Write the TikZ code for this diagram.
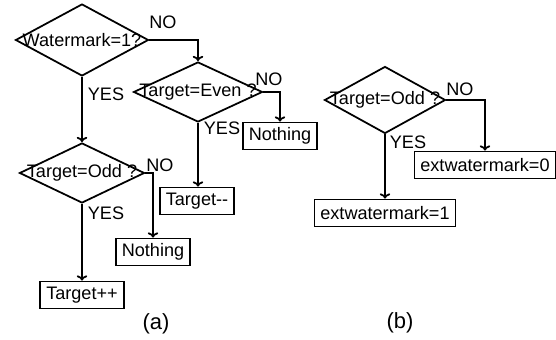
\documentclass[tikz,border=0pt]{standalone}
\usepackage{fontspec}
\setmainfont{Liberation Sans}
\usetikzlibrary{arrows.meta, positioning, shapes.geometric, calc}

\tikzset{
    decision/.style={draw, shape=diamond, line width=1pt, inner sep=0pt},
    action/.style={draw, rectangle, line width=1pt, inner xsep=0.12cm, inner ysep=0pt,
                   minimum height=0.54cm},
    flow/.style={line width=1pt, -{To[length=3pt, width=6pt]}},
    tag/.style={inner sep=0pt},
    caption/.style={inner sep=0pt, font=\fontsize{12.5pt}{14pt}\selectfont}
}

\begin{document}
\begin{tikzpicture}[x=0.02cm, y=-0.02cm, font=\fontsize{10.3pt}{12pt}\selectfont]
    \useasboundingbox (0,0) rectangle (556,340);

    % (a)
    \node[decision, minimum width=2.66cm, minimum height=1.44cm,
          label={center:Watermark=1?}] (wmark) at (82,40) {};
    \node[decision, minimum width=2.58cm, minimum height=1.2cm,
          label={center:Target=Even ?}] (even) at (198,92) {};
    \node[decision, minimum width=2.5cm, minimum height=1.2cm,
          label={center:Target=Odd ?}] (odda) at (82,173) {};
    \node[action] (none1) at (280,136) {Nothing};
    \node[action] (tdec) at (197,201) {Target-{}-};
    \node[action] (none2) at (153,252) {Nothing};
    \node[action] (tinc) at (82,295) {Target++};

    \draw[flow] (wmark.east) -| (even.north);
    \draw[flow] (wmark.south) -- (odda.north);
    \draw[flow] (even.east) -| (none1.north);
    \draw[flow] (even.south) -- (tdec.north -| even.south);
    \draw[flow] (odda.east) -| (none2.north);
    \draw[flow] (odda.south) -- (tinc.north);

    \node[tag] (no1) at (163,22) {NO};
    \node[tag] (yes1) at (106,94) {YES};
    \node[tag] (no2) at (269,79) {NO};
    \node[tag] (yes2) at (222,128) {YES};
    \node[tag] (no3) at (160,165) {NO};
    \node[tag] (yes3) at (106,213) {YES};
    \node[caption] (capa) at (156,324) {(a)};

    % (b)
    \node[decision, minimum width=2.42cm, minimum height=1.34cm,
          label={center:Target=Odd ?}] (oddb) at (385,100) {};
    \node[action] (ext0) at (485,165) {extwatermark=0};
    \node[action] (ext1) at (385,213) {extwatermark=1};

    \draw[flow] (oddb.east) -| (ext0.north);
    \draw[flow] (oddb.south) -- (ext1.north);

    \node[tag] (no4) at (460,89) {NO};
    \node[tag] (yes4) at (408,142) {YES};
    \node[caption] (capb) at (400,323) {(b)};
\end{tikzpicture}
\end{document}
